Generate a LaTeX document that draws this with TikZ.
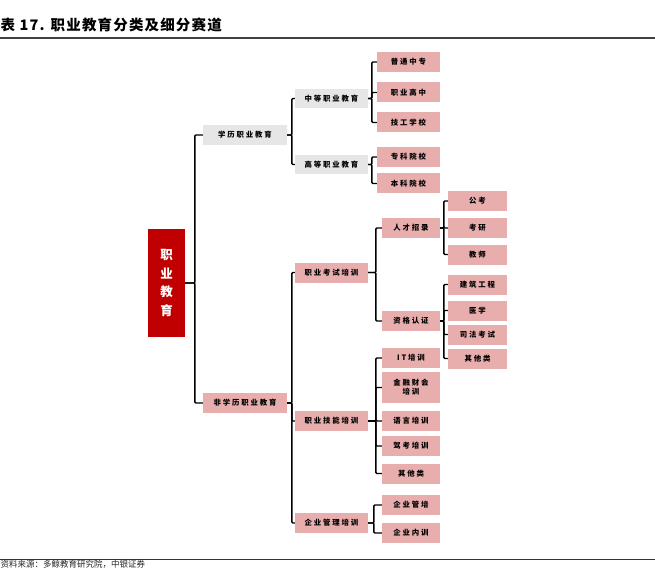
\documentclass[tikz,border=0pt]{standalone}
\usepackage{fontspec}
\setmainfont{Noto Sans CJK SC}
\newfontfamily\cjk[LetterSpace=25]{Noto Sans CJK SC}
\newfontfamily\titlefont[LetterSpace=8]{Noto Sans CJK SC}
\definecolor{rootred}{HTML}{C00000}
\definecolor{boxpink}{HTML}{E8ADAD}
\definecolor{boxgrey}{HTML}{E6E6E6}
\tikzset{
    box/.style={inner sep=0pt, minimum height=20pt, font=\cjk\bfseries\fontsize{7.4}{9}\selectfont, align=center},
    pinkbox/.style={box, fill=boxpink},
    greybox/.style={box, fill=boxgrey},
    link/.style={line width=1.4pt, rounded corners=1pt},
}
\begin{document}
\begin{tikzpicture}[x=1pt, y=-1pt]
            \useasboundingbox (0,0) rectangle (655,569);

            % title and rules
            \node[anchor=west, inner sep=0pt, font=\titlefont\bfseries\fontsize{14.5}{16}\selectfont] (title) at (0.5,25) {表 17. 职业教育分类及细分赛道};
            \draw[line width=1.2pt, black!75] (0,38) -- (655,38);
            \draw[line width=0.9pt, black!80] (0,559) -- (655,559);
            \node[anchor=north west, inner sep=0pt, font=\fontsize{8.5}{9}\selectfont, black!85] (src) at (0.5,560.5) {资料来源：多鲸教育研究院，中银证券};

            % root
            \node[fill=rootred, text=white, minimum width=37pt, minimum height=108pt, inner sep=0pt, align=center,
                  font=\bfseries\fontsize{12.5}{18.5}\selectfont] (zyjy) at (166.5,283) {职\\业\\教\\育};

            % level 1
            \node[greybox, minimum width=84pt] (xl) at (245,135) {学历职业教育};
            \node[pinkbox, minimum width=84pt] (fxl) at (245,403) {非学历职业教育};

            % level 2
            \node[greybox, minimum width=73pt, minimum height=19pt] (zd) at (331.5,98.5) {中等职业教育};
            \node[greybox, minimum width=73pt, minimum height=19pt] (gd) at (331.5,164.5) {高等职业教育};
            \node[pinkbox, minimum width=73pt] (ks) at (331.5,272.5) {职业考试培训};
            \node[pinkbox, minimum width=73pt] (jn) at (331.5,421) {职业技能培训};
            \node[pinkbox, minimum width=73pt] (gl) at (331.5,523) {企业管理培训};

            % schools
            \node[pinkbox, minimum width=63pt] (ptzz) at (408.5,62) {普通中专};
            \node[pinkbox, minimum width=63pt] (zygz) at (408.5,92.5) {职业高中};
            \node[pinkbox, minimum width=63pt] (jgxx) at (408.5,122.5) {技工学校};
            \node[pinkbox, minimum width=63pt] (zkyx) at (408.5,157) {专科院校};
            \node[pinkbox, minimum width=63pt] (bkyx) at (408.5,183.5) {本科院校};

            % exams
            \node[pinkbox, minimum width=58pt] (rczl) at (411,228) {人才招录};
            \node[pinkbox, minimum width=58pt] (zgrz) at (411,321) {资格认证};
            \node[pinkbox, minimum width=59pt] (gk) at (477.5,201) {公考};
            \node[pinkbox, minimum width=59pt] (ky) at (477.5,228) {考研};
            \node[pinkbox, minimum width=59pt] (js) at (477.5,254.5) {教师};
            \node[pinkbox, minimum width=59pt] (jzgc) at (477.5,284.5) {建筑工程};
            \node[pinkbox, minimum width=59pt] (yx) at (477.5,310.5) {医学};
            \node[pinkbox, minimum width=59pt] (sfks) at (477.5,334.5) {司法考试};
            \node[pinkbox, minimum width=59pt] (qtks) at (477.5,358.5) {其他类};

            % skills
            \node[pinkbox, minimum width=58pt] (it) at (411,358) {IT培训};
            \node[pinkbox, minimum width=58pt, minimum height=31pt] (jrck) at (411,387.5) {金融财会\\培训};
            \node[pinkbox, minimum width=58pt] (yy) at (411,421) {语言培训};
            \node[pinkbox, minimum width=58pt] (jk) at (411,446) {驾考培训};
            \node[pinkbox, minimum width=58pt] (qtjn) at (411,473.5) {其他类};

            % management
            \node[pinkbox, minimum width=58pt] (qygp) at (411,505) {企业管培};
            \node[pinkbox, minimum width=58pt] (qynx) at (411,533) {企业内训};

            % connectors
            \foreach \c in {xl,fxl}
                \draw[link] (zyjy.east) -| ([xshift=-8pt]\c.west) -- (\c.west);
            \foreach \c in {zd,gd}
                \draw[link] (xl.east) -| ([xshift=-3pt]\c.west) -- (\c.west);
            \foreach \c in {ks,jn,gl}
                \draw[link] (fxl.east) -| ([xshift=-3pt]\c.west) -- (\c.west);
            \foreach \c in {ptzz,zygz,jgxx}
                \draw[link] (zd.east) -| ([xshift=-5pt]\c.west) -- (\c.west);
            \foreach \c in {zkyx,bkyx}
                \draw[link] (gd.east) -| ([xshift=-5pt]\c.west) -- (\c.west);
            \foreach \c in {rczl,zgrz}
                \draw[link] (ks.east) -| ([xshift=-6pt]\c.west) -- (\c.west);
            \foreach \c in {gk,ky,js}
                \draw[link] (rczl.east) -| ([xshift=-4pt]\c.west) -- (\c.west);
            \foreach \c in {jzgc,yx,sfks,qtks}
                \draw[link] (zgrz.east) -| ([xshift=-4pt]\c.west) -- (\c.west);
            \foreach \c in {it,jrck,yy,jk,qtjn}
                \draw[link] (jn.east) -| ([xshift=-6pt]\c.west) -- (\c.west);
            \foreach \c in {qygp,qynx}
                \draw[link] (gl.east) -| ([xshift=-8pt]\c.west) -- (\c.west);
        \end{tikzpicture}
\end{document}
